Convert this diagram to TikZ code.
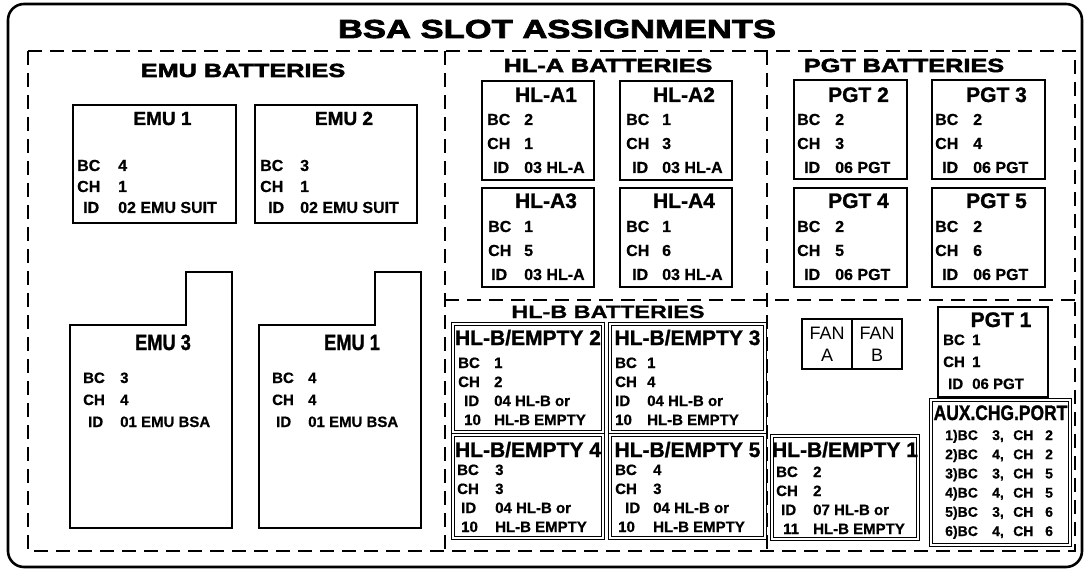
\documentclass[tikz,border=0pt]{standalone}
\usepackage{fontspec}
\setmainfont{Liberation Sans}
\newfontfamily\heavyfont{Liberation Sans}[FakeStretch=1.33,BoldFeatures={FakeBold=3}]
\newfontfamily\widefont{Liberation Sans}[FakeStretch=1.3,BoldFeatures={FakeBold=0.8}]
\newfontfamily\boxfont{Liberation Sans}[BoldFeatures={FakeBold=1.2}]
\newfontfamily\datafont{Liberation Sans}[BoldFeatures={FakeBold=0.6}]
\newfontfamily\narrowfont{Liberation Sans}[FakeStretch=0.83,BoldFeatures={FakeBold=1.2}]
\usetikzlibrary{calc,positioning}

\begin{document}
\begin{tikzpicture}[x=1pt,y=-1pt,
  slot/.style={draw,line width=1.8pt,inner sep=0pt,outer sep=0pt,anchor=north west},
  dslot/.style={slot,line width=1.1pt,double,double distance=1.2pt},
  slottitle/.style={inner sep=0pt,anchor=base,font=\boxfont\bfseries\fontsize{21}{21}\selectfont},
  slotdata/.style={inner sep=0pt,anchor=base west,font=\datafont\bfseries\fontsize{16}{24}\selectfont},
  sectitle/.style={inner sep=0pt,anchor=base,font=\heavyfont\bfseries\fontsize{19}{19}\selectfont},
  divider/.style={line width=1.6pt,dash pattern=on 14pt off 8pt}]
  \useasboundingbox (0,0) rectangle (1084,569);
  \draw[line width=2.6pt,rounded corners=16pt] (8,4) rectangle (1082,567);
  \node[inner sep=0pt,anchor=base,font=\heavyfont\bfseries\fontsize{26}{26}\selectfont] (title) at (557,38) {BSA SLOT ASSIGNMENTS};

  % dashed sections
  \coordinate (dNW) at (28,51);
  \coordinate (dSE) at (1075,551);
  \coordinate (cutA) at (445,51);
  \coordinate (cutB) at (767,51);
  \coordinate (cutC) at (445,300);
  \draw[divider] (dNW) rectangle (dSE);
  \draw[divider] (cutA) -- (cutA |- dSE);
  \draw[divider] (cutB) -- (cutB |- dSE);
  \draw[divider] (cutC) -- (cutC -| dSE);

  \node[sectitle] (emuhead) at (243,77) {EMU BATTERIES};
  \node[sectitle] (hlahead) at (608,72) {HL-A BATTERIES};
  \node[sectitle] (pgthead) at (904,72) {PGT BATTERIES};
  \node[inner sep=0pt,anchor=base,font=\widefont\bfseries\fontsize{18}{18}\selectfont] (hlbhead) at (608,318) {HL-B BATTERIES};

  % EMU
  \node[slot,minimum width=163,minimum height=118] (emu1) at (73,105) {};
  \node[slot,minimum width=162,minimum height=118] (emu2) at ($(emu1.north west)+(182,0)$) {};
  \node[slottitle,font=\boxfont\bfseries\fontsize{19}{19}\selectfont] (emu1t) at ($(emu1.north)+(8,20)$) {EMU 1};
  \node[slottitle,font=\boxfont\bfseries\fontsize{19}{19}\selectfont] (emu2t) at ($(emu2.north)+(8,20)$) {EMU 2};
  \node[slotdata,font=\datafont\bfseries\fontsize{16}{21}\selectfont] (emu1d) at ($(emu1.north west)+(4,66)$)
    {\begin{tabular}[t]{@{}p{41pt}@{}l@{}}BC&4\\CH&1\\\hspace*{6pt}ID&02 EMU SUIT\end{tabular}};
  \node[slotdata,font=\datafont\bfseries\fontsize{16}{21}\selectfont] (emu2d) at ($(emu2.north west)+(5,66)$)
    {\begin{tabular}[t]{@{}p{40pt}@{}l@{}}BC&3\\CH&1\\\hspace*{8pt}ID&02 EMU SUIT\end{tabular}};

  \coordinate (emu3) at (70,325);
  \coordinate (emu4) at (259,325);
  \foreach \c in {emu3,emu4}
    \draw[line width=1.8pt] (\c) -- ++(116,0) -- ++(0,-53) -- ++(46,0) -- ++(0,256) -- ++(-162,0) -- cycle;
  \node[slottitle,font=\narrowfont\bfseries\fontsize{22}{22}\selectfont] (emu3t) at ($(emu3)+(93,25)$) {EMU 3};
  \node[slottitle,font=\narrowfont\bfseries\fontsize{22}{22}\selectfont] (emu4t) at ($(emu4)+(93,25)$) {EMU 1};
  \node[slotdata,font=\datafont\bfseries\fontsize{15}{22}\selectfont] (emu3d) at ($(emu3)+(13,58)$)
    {\begin{tabular}[t]{@{}p{37pt}@{}l@{}}BC&3\\CH&4\\\hspace*{5pt}ID&01 EMU BSA\end{tabular}};
  \node[slotdata,font=\datafont\bfseries\fontsize{15}{22}\selectfont] (emu4d) at ($(emu4)+(13,58)$)
    {\begin{tabular}[t]{@{}p{36pt}@{}l@{}}BC&4\\CH&4\\\hspace*{4pt}ID&01 EMU BSA\end{tabular}};

  % HL-A
  \node[slot,minimum width=112,minimum height=99] (hla1) at (482,81) {};
  \node[slot,minimum width=112,minimum height=99] (hla2) at ($(hla1.north west)+(138,0)$) {};
  \node[slot,minimum width=112,minimum height=99] (hla3) at ($(hla1.north west)+(0,107)$) {};
  \node[slot,minimum width=112,minimum height=99] (hla4) at ($(hla3.north west)+(138,0)$) {};
  \node[slottitle] (hla1t) at ($(hla1.north)+(8,21)$) {HL-A1};
  \node[slottitle] (hla2t) at ($(hla2.north)+(8,21)$) {HL-A2};
  \node[slottitle] (hla3t) at ($(hla3.north)+(8,20)$) {HL-A3};
  \node[slottitle] (hla4t) at ($(hla4.north)+(8,20)$) {HL-A4};
  \node[slotdata] (hla1d) at ($(hla1.north west)+(5,44)$)
    {\begin{tabular}[t]{@{}p{37pt}@{}l@{}}BC&2\\CH&1\\\hspace*{6pt}ID&03 HL-A\end{tabular}};
  \node[slotdata] (hla2d) at ($(hla2.north west)+(6,44)$)
    {\begin{tabular}[t]{@{}p{36pt}@{}l@{}}BC&1\\CH&3\\\hspace*{6pt}ID&03 HL-A\end{tabular}};
  \node[slotdata] (hla3d) at ($(hla3.north west)+(6,44)$)
    {\begin{tabular}[t]{@{}p{36pt}@{}l@{}}BC&1\\CH&5\\\hspace*{3pt}ID&03 HL-A\end{tabular}};
  \node[slotdata] (hla4d) at ($(hla4.north west)+(6,44)$)
    {\begin{tabular}[t]{@{}p{36pt}@{}l@{}}BC&1\\CH&6\\\hspace*{6pt}ID&03 HL-A\end{tabular}};

  % PGT
  \node[slot,minimum width=113,minimum height=99] (pgt2) at (794,80) {};
  \node[slot,minimum width=113,minimum height=99] (pgt3) at ($(pgt2.north west)+(138,0)$) {};
  \node[slot,minimum width=113,minimum height=99] (pgt4) at ($(pgt2.north west)+(0,108)$) {};
  \node[slot,minimum width=113,minimum height=99] (pgt5) at ($(pgt4.north west)+(138,0)$) {};
  \node[slottitle] (pgt2t) at ($(pgt2.north)+(8,22)$) {PGT 2};
  \node[slottitle] (pgt3t) at ($(pgt3.north)+(8,22)$) {PGT 3};
  \node[slottitle] (pgt4t) at ($(pgt4.north)+(8,20)$) {PGT 4};
  \node[slottitle] (pgt5t) at ($(pgt5.north)+(8,20)$) {PGT 5};
  \node[slotdata] (pgt2d) at ($(pgt2.north west)+(3,45)$)
    {\begin{tabular}[t]{@{}p{38pt}@{}l@{}}BC&2\\CH&3\\\hspace*{7pt}ID&06 PGT\end{tabular}};
  \node[slotdata] (pgt3d) at ($(pgt3.north west)+(3,45)$)
    {\begin{tabular}[t]{@{}p{38pt}@{}l@{}}BC&2\\CH&4\\\hspace*{7pt}ID&06 PGT\end{tabular}};
  \node[slotdata] (pgt4d) at ($(pgt4.north west)+(3,44)$)
    {\begin{tabular}[t]{@{}p{38pt}@{}l@{}}BC&2\\CH&5\\\hspace*{7pt}ID&06 PGT\end{tabular}};
  \node[slotdata] (pgt5d) at ($(pgt5.north west)+(3,44)$)
    {\begin{tabular}[t]{@{}p{38pt}@{}l@{}}BC&2\\CH&6\\\hspace*{7pt}ID&06 PGT\end{tabular}};

  % HL-B
  \node[dslot,minimum width=150,minimum height=108] (hlb2) at (453,324) {};
  \node[dslot,minimum width=155,minimum height=108] (hlb3) at ($(hlb2.north west)+(157,0)$) {};
  \node[dslot,minimum width=150,minimum height=103] (hlb4) at ($(hlb2.north west)+(0,111)$) {};
  \node[dslot,minimum width=155,minimum height=103] (hlb5) at ($(hlb4.north west)+(157,0)$) {};
  \node[slottitle] (hlb2t) at ($(hlb2.north)+(0,21)$) {HL-B/EMPTY 2};
  \node[slottitle] (hlb3t) at ($(hlb3.north)+(0,21)$) {HL-B/EMPTY 3};
  \node[slottitle] (hlb4t) at ($(hlb4.north)+(0,22)$) {HL-B/EMPTY 4};
  \node[slottitle] (hlb5t) at ($(hlb5.north)+(0,22)$) {HL-B/EMPTY 5};
  \node[slotdata,font=\datafont\bfseries\fontsize{15}{19}\selectfont] (hlb2d) at ($(hlb2.north west)+(5,44)$)
    {\begin{tabular}[t]{@{}p{36pt}@{}l@{}}BC&1\\CH&2\\\hspace*{6pt}ID&04 HL-B or\\\hspace*{6pt}10&HL-B EMPTY\end{tabular}};
  \node[slotdata,font=\datafont\bfseries\fontsize{15}{19}\selectfont] (hlb3d) at ($(hlb3.north west)+(5,44)$)
    {\begin{tabular}[t]{@{}p{32pt}@{}l@{}}BC&1\\CH&4\\ID&04 HL-B or\\10&HL-B EMPTY\end{tabular}};
  \node[slotdata,font=\datafont\bfseries\fontsize{15}{19}\selectfont] (hlb4d) at ($(hlb4.north west)+(4,40)$)
    {\begin{tabular}[t]{@{}p{38pt}@{}l@{}}BC&3\\CH&3\\\hspace*{4pt}ID&04 HL-B or\\\hspace*{4pt}10&HL-B EMPTY\end{tabular}};
  \node[slotdata,font=\datafont\bfseries\fontsize{15}{19}\selectfont] (hlb5d) at ($(hlb5.north west)+(5,40)$)
    {\begin{tabular}[t]{@{}p{38pt}@{}l@{}}BC&4\\CH&3\\\hspace*{10pt}ID&04 HL-B or\\\hspace*{3pt}10&HL-B EMPTY\end{tabular}};

  % fans, PGT 1, HL-B/EMPTY 1, aux port
  \node[draw,line width=1.5pt,inner sep=0pt,outer sep=0pt,minimum width=50,minimum height=50,
        align=center,font=\fontsize{18}{22}\selectfont] (fana) at (827,344) {FAN\\A};
  \node[draw,line width=1.5pt,inner sep=0pt,outer sep=0pt,minimum width=50,minimum height=50,
        align=center,font=\fontsize{18}{22}\selectfont,right=0pt of fana] (fanb) {FAN\\B};

  \node[slot,minimum width=110,minimum height=90] (pgt1) at (938,307) {};
  \node[slottitle] (pgt1t) at ($(pgt1.north)+(8,20)$) {PGT 1};
  \node[slotdata,font=\datafont\bfseries\fontsize{15}{22}\selectfont] (pgt1d) at ($(pgt1.north west)+(5,38)$)
    {\begin{tabular}[t]{@{}p{29pt}@{}l@{}}BC&1\\CH&1\\\hspace*{5pt}ID&06 PGT\end{tabular}};

  \node[dslot,minimum width=146,minimum height=103] (hlb1) at (772,436) {};
  \node[slottitle] (hlb1t) at ($(hlb1.north)+(0,21)$) {HL-B/EMPTY 1};
  \node[slotdata,font=\datafont\bfseries\fontsize{15}{19}\selectfont] (hlb1d) at ($(hlb1.north west)+(4,41)$)
    {\begin{tabular}[t]{@{}p{37pt}@{}l@{}}BC&2\\CH&2\\\hspace*{5pt}ID&07 HL-B or\\\hspace*{7pt}11&HL-B EMPTY\end{tabular}};

  \node[dslot,minimum width=139,minimum height=145] (aux) at (931,400) {};
  \node[slottitle,font=\narrowfont\bfseries\fontsize{21}{21}\selectfont] (auxt) at ($(aux.north)+(0,20)$) {AUX.CHG.PORT};
  \node[slotdata,font=\datafont\bfseries\fontsize{14}{19.2}\selectfont] (auxd) at ($(aux.north west)+(14,40)$)
    {\begin{tabular}[t]{@{}p{47pt}@{}p{21pt}@{}p{32pt}@{}l@{}}
      1)BC&3,&CH&2\\2)BC&4,&CH&2\\3)BC&3,&CH&5\\4)BC&4,&CH&5\\5)BC&3,&CH&6\\6)BC&4,&CH&6\end{tabular}};
\end{tikzpicture}
\end{document}
